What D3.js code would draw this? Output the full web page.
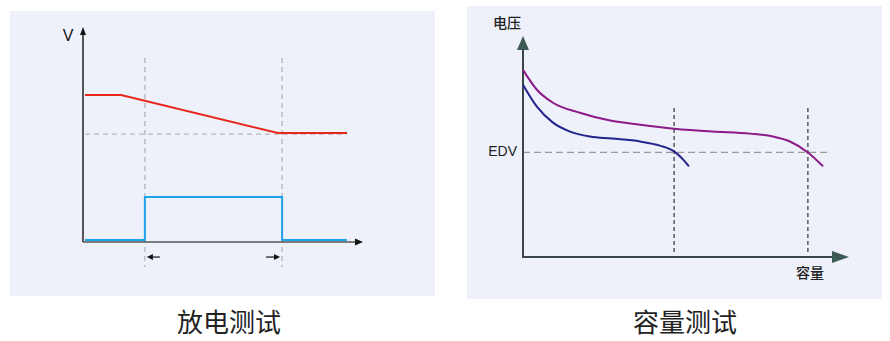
<!DOCTYPE html>
<html>
<head>
<meta charset="utf-8">
<script src="https://cdn.jsdelivr.net/npm/d3@7"></script>
<style>
  body { margin: 0; background: #fff; }
  svg { display: block; font-family: "Noto Sans CJK SC", "Liberation Sans", sans-serif; }
</style>
</head>
<body>
<div id="chart"></div>
<script>
// ---- left chart: discharge test (time units 0..100, volts units 0..100)
var dischargeX = [0.7, 13.6, 69.6, 94.3];
var dischargeV = [68.4, 68.4, 50.7, 50.7];
var currentX = [0.7, 22.1, 22.1, 71.1, 71.1, 94.3];
var currentV = [0.9, 0.9, 20.9, 20.9, 0.9, 0.9];
var cutoffV = 50.2;
var markersX = [22.1, 71.1];
var leftTitle = "放电测试";
var leftYLabel = "V";

// ---- right chart: capacity test (capacity 0..100, voltage 0..100)
var shortX = [0, 4.5, 9.7, 15.2, 21.7, 28.8, 37.9, 44.3, 48.9, 51.5, 53.7];
var shortV = [83.2, 72.6, 64.9, 60.6, 58.2, 57.2, 55.8, 53.8, 51.0, 47.6, 43.8];
var longX = [0, 4.5, 9.7, 18.4, 28.2, 37.9, 48.9, 61.2, 73.5, 80.9, 86.4, 92.2, 97.1];
var longV = [90.4, 80.8, 74.5, 69.7, 65.9, 63.9, 62.0, 60.6, 59.6, 58.2, 55.8, 50.5, 43.8];
var edv = 50.5;
var capMarkersX = [48.9, 92.2];
var rightTitle = "容量测试";
var rightYLabel = "电压";
var rightXLabel = "容量";
var edvLabel = "EDV";

var svg = d3.select('#chart')
  .append('svg')
    .attr('width', 890)
    .attr('height', 341);

// panel backgrounds
svg.append("rect").attr("x", 10).attr("y", 11).attr("width", 425).attr("height", 285).attr("fill", "#eef1fa");
svg.append("rect").attr("x", 467).attr("y", 6).attr("width", 415).attr("height", 293).attr("fill", "#eef1fa");

// ================= left chart =================
var xL = d3.scaleLinear().domain([0, 100]).range([83, 363]);
var yL = d3.scaleLinear().domain([0, 100]).range([242, 27]);
var gL = svg.append("g");

// dashed guides
gL.append("line")
  .attr("x1", xL(0.7)).attr("x2", xL(94.3))
  .attr("y1", yL(cutoffV)).attr("y2", yL(cutoffV))
  .attr("stroke", "#b4b6bf").attr("stroke-width", 1.3).attr("stroke-dasharray", "5,4");
gL.selectAll(".vmark").data(markersX).enter().append("line")
  .attr("x1", d => xL(d)).attr("x2", d => xL(d))
  .attr("y1", yL(85.6)).attr("y2", yL(-11.6))
  .attr("stroke", "#b4b6bf").attr("stroke-width", 1.3).attr("stroke-dasharray", "5,4");

// axes
gL.append("line").attr("x1", xL(0)).attr("x2", xL(0)).attr("y1", yL(0)).attr("y2", yL(100) + 4)
  .attr("stroke", "#222").attr("stroke-width", 1.5);
gL.append("line").attr("x1", xL(0)).attr("x2", xL(100) - 4).attr("y1", yL(0)).attr("y2", yL(0))
  .attr("stroke", "#555").attr("stroke-width", 1.5);
gL.append("path")
  .attr("d", `M${xL(0)},${yL(100)} l-3,8 l6,0 z`).attr("fill", "#111");
gL.append("path")
  .attr("d", `M${xL(100)},${yL(0)} l-8,-3.5 l0,7 z`).attr("fill", "#111");

// red voltage line
var lineL = d3.line().x(d => xL(d[0])).y(d => yL(d[1]));
gL.append("path")
  .attr("d", lineL(d3.zip(dischargeX, dischargeV)))
  .attr("fill", "none").attr("stroke", "#e8261c").attr("stroke-width", 2);
// blue current line
gL.append("path")
  .attr("d", lineL(d3.zip(currentX, currentV)))
  .attr("fill", "none").attr("stroke", "#1ea4e6").attr("stroke-width", 2);

// small arrows under the markers
var ay = yL(-7);
gL.append("line").attr("x1", xL(markersX[0]) + 15).attr("x2", xL(markersX[0]) + 4).attr("y1", ay).attr("y2", ay)
  .attr("stroke", "#111").attr("stroke-width", 1.2);
gL.append("path").attr("d", `M${xL(markersX[0]) + 2},${ay} l6,-3 l0,6 z`).attr("fill", "#111");
gL.append("line").attr("x1", xL(markersX[1]) - 16).attr("x2", xL(markersX[1]) - 5).attr("y1", ay).attr("y2", ay)
  .attr("stroke", "#111").attr("stroke-width", 1.2);
gL.append("path").attr("d", `M${xL(markersX[1]) - 2},${ay} l-6,-3 l0,6 z`).attr("fill", "#111");

gL.append("text").attr("x", 68).attr("y", 41).attr("text-anchor", "middle")
  .style("font-family", "Liberation Sans, sans-serif").style("font-size", "16px").attr("fill", "#111")
  .text(leftYLabel);

svg.append("text").attr("x", 229).attr("y", 325).attr("text-anchor", "middle")
  .attr("dominant-baseline", "middle")
  .style("font-size", "26px").attr("fill", "#222").text(leftTitle);

// ================= right chart =================
var xR = d3.scaleLinear().domain([0, 100]).range([523, 832]);
var yR = d3.scaleLinear().domain([0, 100]).range([257, 50]);
var gR = svg.append("g");

gR.append("line")
  .attr("x1", xR(0)).attr("x2", xR(98.5))
  .attr("y1", yR(edv)).attr("y2", yR(edv))
  .attr("stroke", "#9a9a9a").attr("stroke-width", 1.3).attr("stroke-dasharray", "7,4");
gR.selectAll(".vmark").data(capMarkersX).enter().append("line")
  .attr("x1", d => xR(d)).attr("x2", d => xR(d))
  .attr("y1", 108).attr("y2", yR(2))
  .attr("stroke", "#333").attr("stroke-width", 1.2).attr("stroke-dasharray", "4,3");

// axes
gR.append("line").attr("x1", xR(0)).attr("x2", xR(0)).attr("y1", yR(0) + 1).attr("y2", yR(100))
  .attr("stroke", "#3a4646").attr("stroke-width", 2);
gR.append("line").attr("x1", xR(0)).attr("x2", xR(100)).attr("y1", yR(0)).attr("y2", yR(0))
  .attr("stroke", "#3a4646").attr("stroke-width", 2);
gR.append("path").attr("d", `M${xR(0)},${yR(100) - 14} l-6,14 l12,0 z`).attr("fill", "#3d5a55");
gR.append("path").attr("d", `M${xR(100) + 17},${yR(0)} l-17,-6 l0,12 z`).attr("fill", "#3d5a55");

var curveR = d3.line().x(d => xR(d[0])).y(d => yR(d[1])).curve(d3.curveMonotoneX);
gR.append("path")
  .attr("d", curveR(d3.zip(longX, longV)))
  .attr("fill", "none").attr("stroke", "#8c1a88").attr("stroke-width", 2);
gR.append("path")
  .attr("d", curveR(d3.zip(shortX, shortV)))
  .attr("fill", "none").attr("stroke", "#24258c").attr("stroke-width", 2);

gR.append("text").attr("x", 507).attr("y", 28).attr("text-anchor", "middle")
  .style("font-size", "14px").style("font-weight", "500").attr("fill", "#222").text(rightYLabel);
gR.append("text").attr("x", 810).attr("y", 278).attr("text-anchor", "middle")
  .style("font-size", "14px").style("font-weight", "500").attr("fill", "#222").text(rightXLabel);
gR.append("text").attr("x", 517).attr("y", 156).attr("text-anchor", "end")
  .style("font-family", "Liberation Sans, sans-serif").style("font-size", "14px").attr("fill", "#222")
  .text(edvLabel);

svg.append("text").attr("x", 685).attr("y", 325).attr("text-anchor", "middle")
  .attr("dominant-baseline", "middle")
  .style("font-size", "26px").attr("fill", "#222").text(rightTitle);
</script>
</body>
</html>
